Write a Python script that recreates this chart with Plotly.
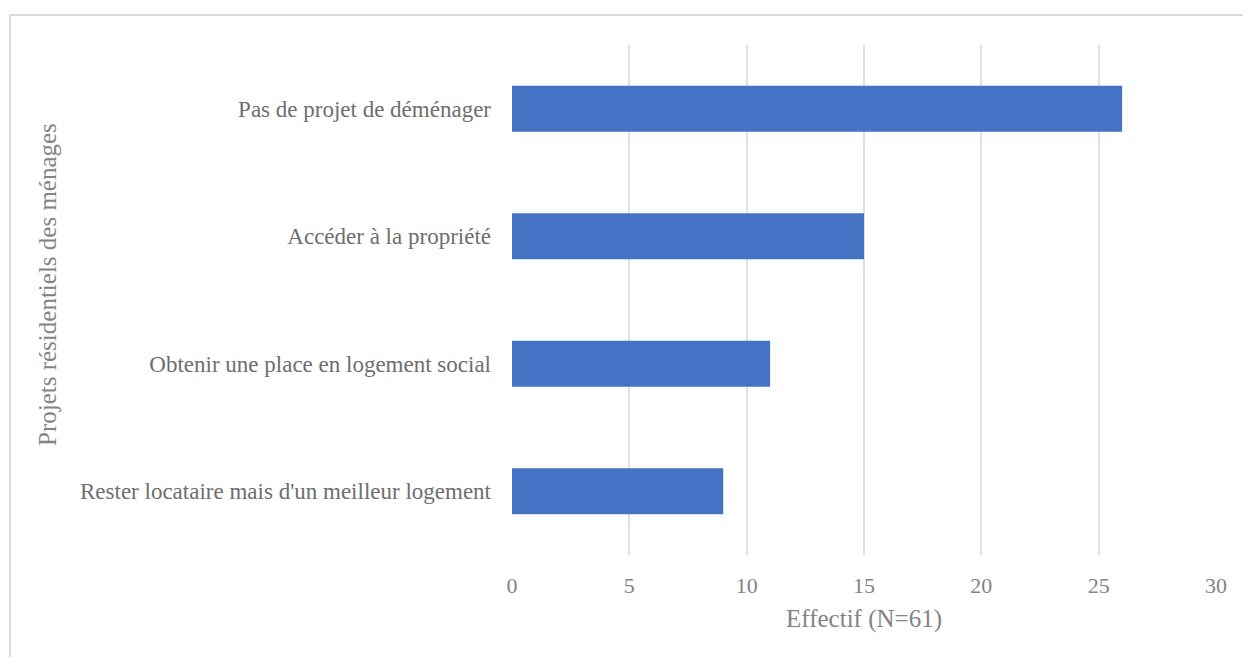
import plotly.graph_objects as go

# categories bottom -> top, as drawn
projets = [
    "Rester locataire mais d'un meilleur logement",
    "Obtenir une place en logement social",
    "Accéder à la propriété",
    "Pas de projet de déménager",
]
effectifs = [9, 11, 15, 26]
x_ticks = [0, 5, 10, 15, 20, 25, 30]

FONT = "Liberation Serif"
GREY = "#6e6e6e"
LIGHT = "#838383"

# plot area in pixels (left, top, width, height)
L, T, W, H = 512, 45, 704, 510

fig = go.Figure()
fig.add_trace(go.Bar(
    x=effectifs,
    y=projets,
    orientation='h',
    marker=dict(color='#4472C4', line=dict(width=0)),
    width=0.36,
    hoverinfo='x+y',
))

fig.update_layout(
    width=1243,
    height=657,
    margin=dict(l=L, r=1243 - L - W, t=T, b=657 - T - H),
    paper_bgcolor='white',
    plot_bgcolor='white',
    showlegend=False,
    font=dict(family=FONT, color=GREY, size=23),
    xaxis=dict(
        range=[0, 30],
        tickvals=x_ticks,
        showgrid=True,
        gridcolor='#e0e0e0',
        gridwidth=1.5,
        zeroline=False,
        showline=False,
        ticks='',
        ticklabelstandoff=15,
        tickfont=dict(size=22, color=LIGHT),
        title=dict(text='Effectif (N=61)', font=dict(size=25, color=LIGHT), standoff=12),
    ),
    yaxis=dict(
        categoryorder='array',
        categoryarray=projets,
        showgrid=False,
        zeroline=False,
        showline=False,
        ticks='',
        ticklabelstandoff=20,
        tickfont=dict(size=23, color=GREY),
    ),
    annotations=[dict(
        text='Projets résidentiels des ménages',
        xref='paper', yref='paper',
        x=(47 - L) / W, y=(T + H - 285) / H,
        xanchor='center', yanchor='middle',
        textangle=-90, showarrow=False,
        font=dict(size=25, color=LIGHT),
    )],
    # light frame around the chart area, as in the original export
    shapes=[dict(
        type='rect', xref='paper', yref='paper',
        x0=(10 - L) / W, x1=(1250 - L) / W,
        y0=(T + H - 665) / H, y1=1 + (T - 15) / H,
        line=dict(color='#dcdcdc', width=2),
        fillcolor='rgba(0,0,0,0)', layer='below',
    )],
)

fig.write_html("out.html", config={'displayModeBar': False},
               post_script="document.body.style.margin='0';")
